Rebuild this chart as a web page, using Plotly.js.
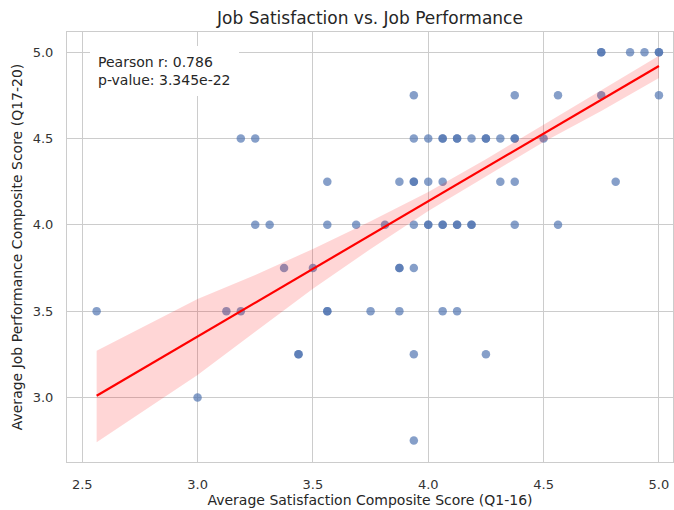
<!DOCTYPE html>
<html>
<head>
<meta charset="utf-8">
<script src="https://cdn.plot.ly/plotly-3.0.1.min.js"></script>
<style>html,body{margin:0;padding:0;background:#fff;}#chart{width:674px;height:510px;}</style>
</head>
<body>
<div id="chart"></div>
<script>
// Scatter data: satisfaction composite (x) vs performance composite (y)
const satScore = [
  4.75, 4.75, 4.875, 4.9375, 5.0, 5.0,
  3.9375, 4.375, 4.5625, 4.75, 5.0,
  3.1875, 3.25, 3.9375, 4.0, 4.0625, 4.0625, 4.125, 4.125, 4.1875, 4.25, 4.25, 4.3125, 4.375, 4.375, 4.5,
  3.5625, 3.875, 3.9375, 3.9375, 4.0, 4.0625, 4.3125, 4.375, 4.8125,
  3.25, 3.3125, 3.5625, 3.6875, 3.8125, 3.9375, 4.0, 4.0, 4.0625, 4.0625, 4.125, 4.125, 4.1875, 4.1875, 4.375, 4.5625,
  3.375, 3.5, 3.875, 3.875, 3.9375,
  2.5625, 3.125, 3.1875, 3.5625, 3.5625, 3.75, 3.875, 4.0625, 4.125,
  3.4375, 3.4375, 3.9375, 4.25,
  3.0,
  3.9375
];
const perfScore = [
  5.0, 5.0, 5.0, 5.0, 5.0, 5.0,
  4.75, 4.75, 4.75, 4.75, 4.75,
  4.5, 4.5, 4.5, 4.5, 4.5, 4.5, 4.5, 4.5, 4.5, 4.5, 4.5, 4.5, 4.5, 4.5, 4.5,
  4.25, 4.25, 4.25, 4.25, 4.25, 4.25, 4.25, 4.25, 4.25,
  4.0, 4.0, 4.0, 4.0, 4.0, 4.0, 4.0, 4.0, 4.0, 4.0, 4.0, 4.0, 4.0, 4.0, 4.0, 4.0,
  3.75, 3.75, 3.75, 3.75, 3.75,
  3.5, 3.5, 3.5, 3.5, 3.5, 3.5, 3.5, 3.5, 3.5,
  3.25, 3.25, 3.25, 3.25,
  3.0,
  2.75
];

// Regression line and 95% CI band
const fitX = [2.5625, 5.0];
const fitY = [3.01, 4.92];
const bandX = [2.5625, 3.0, 3.25, 3.5, 3.75, 4.0, 4.25, 4.5, 4.75, 5.0];
const bandUpper = [3.27, 3.57, 3.71, 3.86, 4.02, 4.19, 4.38, 4.58, 4.78, 4.98];
const bandLower = [2.74, 3.13, 3.38, 3.63, 3.86, 4.08, 4.28, 4.48, 4.66, 4.85];

const xTicks = [2.5, 3.0, 3.5, 4.0, 4.5, 5.0];
const yTicks = [3.0, 3.5, 4.0, 4.5, 5.0];
const xTickText = ['2.5', '3.0', '3.5', '4.0', '4.5', '5.0'];
const yTickText = ['3.0', '3.5', '4.0', '4.5', '5.0'];

const statsText = 'Pearson r: 0.786<br>p-value: 3.345e-22';

const FONT = 'DejaVu Sans, Verdana, sans-serif';
const TXT = '#262626';

const traces = [
  {
    x: satScore, y: perfScore, type: 'scatter', mode: 'markers',
    marker: {color: '#4c72b0', size: 8.5, opacity: 0.68, line: {width: 0}},
    hoverinfo: 'skip', showlegend: false
  },
  {
    x: bandX, y: bandLower, type: 'scatter', mode: 'lines',
    line: {width: 0, color: 'rgba(0,0,0,0)'}, hoverinfo: 'skip', showlegend: false
  },
  {
    x: bandX, y: bandUpper, type: 'scatter', mode: 'lines', fill: 'tonexty',
    fillcolor: 'rgba(255,0,0,0.16)', line: {width: 0, color: 'rgba(0,0,0,0)'},
    hoverinfo: 'skip', showlegend: false
  },
  {
    x: fitX, y: fitY, type: 'scatter', mode: 'lines',
    line: {color: '#ff0000', width: 2.2}, hoverinfo: 'skip', showlegend: false
  }
];

const layout = {
  width: 674, height: 510,
  margin: {l: 67, r: 1, t: 32, b: 48, pad: 0},
  paper_bgcolor: '#ffffff', plot_bgcolor: '#ffffff',
  font: {family: FONT, color: TXT},
  title: {
    text: 'Job Satisfaction vs. Job Performance',
    font: {family: FONT, size: 17, color: TXT},
    x: 0.5, xref: 'paper', xanchor: 'center',
    y: 1 - 18 / 510, yref: 'container', yanchor: 'middle'
  },
  xaxis: {
    range: [2.434, 5.061], tickvals: xTicks, ticktext: xTickText,
    showgrid: true, gridcolor: '#cccccc', gridwidth: 1,
    zeroline: false, showline: true, mirror: true, linecolor: '#cccccc', linewidth: 1,
    ticks: '', ticklabelstandoff: 10,
    tickfont: {family: FONT, size: 13, color: '#333333'},
    title: {text: 'Average Satisfaction Composite Score (Q1-16)', font: {family: FONT, size: 14, color: TXT}, standoff: 4},
    automargin: false
  },
  yaxis: {
    range: [2.626, 5.117], tickvals: yTicks, ticktext: yTickText,
    showgrid: true, gridcolor: '#cccccc', gridwidth: 1,
    zeroline: false, showline: true, mirror: true, linecolor: '#cccccc', linewidth: 1,
    ticks: '', ticklabelstandoff: 10,
    tickfont: {family: FONT, size: 13, color: '#333333'},
    title: {text: 'Average Job Performance Composite Score (Q17-20)', font: {family: FONT, size: 14, color: TXT}, standoff: 6},
    automargin: false
  },
  annotations: [{
    text: statsText, showarrow: false,
    xref: 'paper', yref: 'paper', x: 0.038, y: 0.968, xanchor: 'left', yanchor: 'top',
    align: 'left', font: {family: FONT, size: 14, color: TXT},
    bgcolor: '#ffffff', borderpad: 8, borderwidth: 0
  }]
};

Plotly.newPlot('chart', traces, layout, {staticPlot: true, displayModeBar: false});
</script>
</body>
</html>
